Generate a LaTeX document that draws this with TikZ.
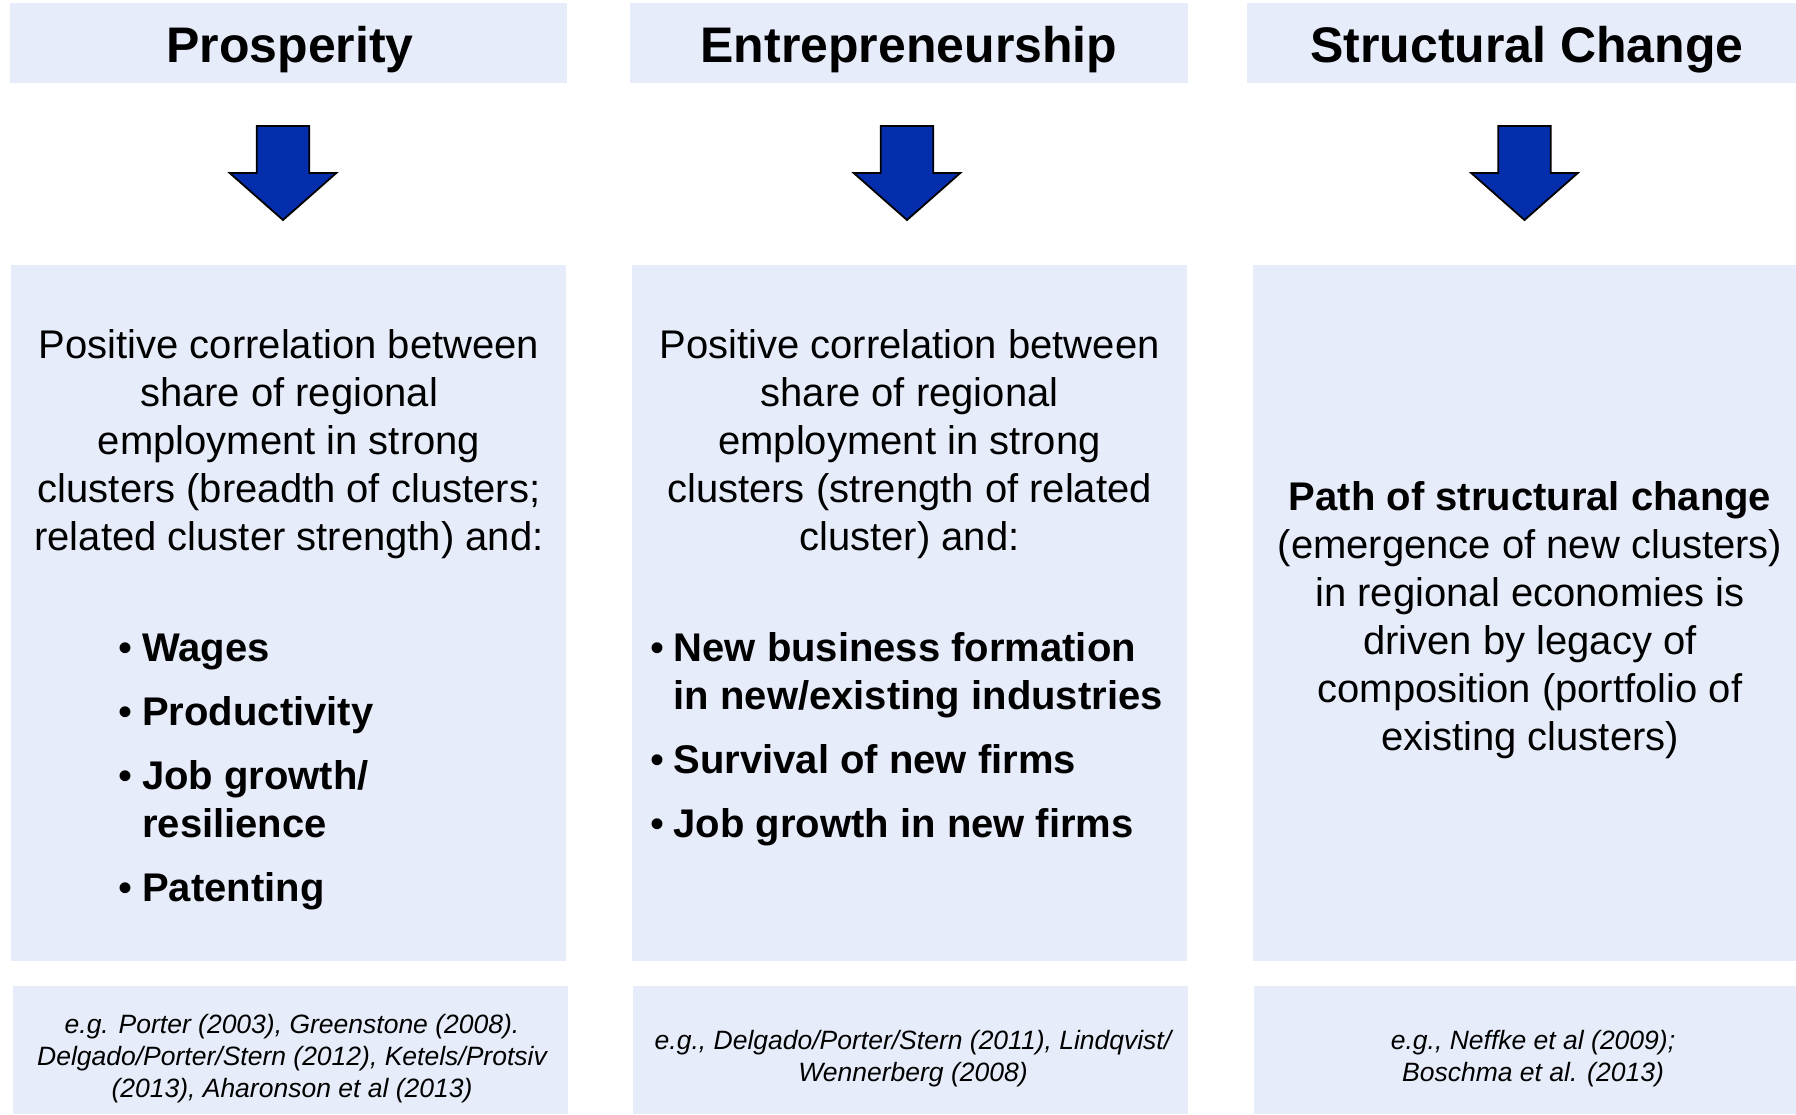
\documentclass[tikz,border=0pt]{standalone}
\usepackage{fontspec}
\setmainfont{Liberation Sans}
\definecolor{boxfill}{RGB}{230,236,250}
\definecolor{arrowblue}{RGB}{5,46,172}
\tikzset{
  panel/.style={fill=boxfill, draw=none, inner sep=0pt, anchor=north west},
  titletext/.style={font=\fontsize{50}{60}\selectfont\bfseries, inner sep=0pt, anchor=base},
  bodytext/.style={font=\fontsize{40}{48}\selectfont, align=center, inner sep=0pt, anchor=base},
  bullettext/.style={font=\fontsize{40}{48}\selectfont\bfseries, align=left, inner sep=0pt, anchor=base west},
  bulletdot/.style={font=\fontsize{40}{48}\selectfont, inner sep=0pt, anchor=base},
  reftext/.style={font=\fontsize{26.5}{32}\selectfont\itshape, align=center, inner sep=0pt, anchor=base},
  blockarrow/.style={fill=arrowblue, draw=black, line width=1.8pt, line join=miter}
}
\begin{document}
\begin{tikzpicture}[x=1pt,y=-1pt]
\useasboundingbox (0,0) rectangle (1796,1114);
% header panels
\node[panel, minimum width=557, minimum height=80] (h1) at (10,3) {};
\node[panel, minimum width=558, minimum height=80] (h2) at (630,3) {};
\node[panel, minimum width=549, minimum height=80] (h3) at (1247,3) {};
% main panels
\node[panel, minimum width=555, minimum height=696] (m1) at (11,265) {};
\node[panel, minimum width=555, minimum height=696] (m2) at (632,265) {};
\node[panel, minimum width=543, minimum height=696] (m3) at (1253,265) {};
% reference panels
\node[panel, minimum width=555, minimum height=128] (r1) at (13,986) {};
\node[panel, minimum width=555, minimum height=128] (r2) at (633,986) {};
\node[panel, minimum width=542, minimum height=128] (r3) at (1254,986) {};
% titles
\node[titletext] (t1) at (290,62) {Prosperity};
\node[titletext] (t2) at (909,62) {Entrepreneurship};
\node[titletext] (t3) at (1527,62) {Structural Change};
% arrows
\foreach \cx in {283,907,1524.5}{
  \draw[blockarrow] ({\cx-26.3},126) -- ({\cx+26.3},126) -- ({\cx+26.3},173) -- ({\cx+53.3},173)
    -- (\cx,220) -- ({\cx-53.3},173) -- ({\cx-26.3},173) -- cycle;
}
% column 1 body (base anchor = baseline of last line)
\node[bodytext] (p1) at (289,550) {Positive correlation between\\share of regional\\employment in strong\\clusters (breadth of clusters;\\related cluster strength) and:};
\node[bulletdot] (b1a) at (126,661) {•};
\node[bullettext] (l1a) at (142,661) {Wages};
\node[bulletdot] (b1b) at (126,725) {•};
\node[bullettext] (l1b) at (142,725) {Productivity};
\node[bulletdot] (b1c) at (126,789) {•};
\node[bullettext] (l1c) at (142,837) {Job growth/\\resilience};
\node[bulletdot] (b1d) at (126,901) {•};
\node[bullettext] (l1d) at (142,901) {Patenting};
% column 2 body
\node[bodytext] (p2) at (909.5,550) {Positive correlation between\\share of regional\\employment in strong\\clusters (strength of related\\cluster) and:};
\node[bulletdot] (b2a) at (657,661) {•};
\node[bullettext] (l2a) at (673.5,709) {New business formation\\in new/existing industries};
\node[bulletdot] (b2b) at (657,773) {•};
\node[bullettext] (l2b) at (673.5,773) {Survival of new firms};
\node[bulletdot] (b2c) at (657,837) {•};
\node[bullettext] (l2c) at (673.5,837) {Job growth in new firms};
% column 3 body
\node[bodytext] (p3) at (1530,750) {\textbf{Path of structural change}\\(emergence of new clusters)\\in regional economies is\\driven by legacy of\\composition (portfolio of\\existing clusters)};
% references
\node[reftext] (f1) at (292,1097) {e.g. Porter (2003), Greenstone (2008).\\Delgado/Porter/Stern (2012), Ketels/Protsiv\\(2013), Aharonson et al (2013)};
\node[reftext] (f2) at (913,1081) {e.g., Delgado/Porter/Stern (2011), Lindqvist/\\Wennerberg (2008)};
\node[reftext] (f3) at (1533,1081) {e.g., Neffke et al (2009);\\Boschma et al. (2013)};
\end{tikzpicture}
\end{document}
